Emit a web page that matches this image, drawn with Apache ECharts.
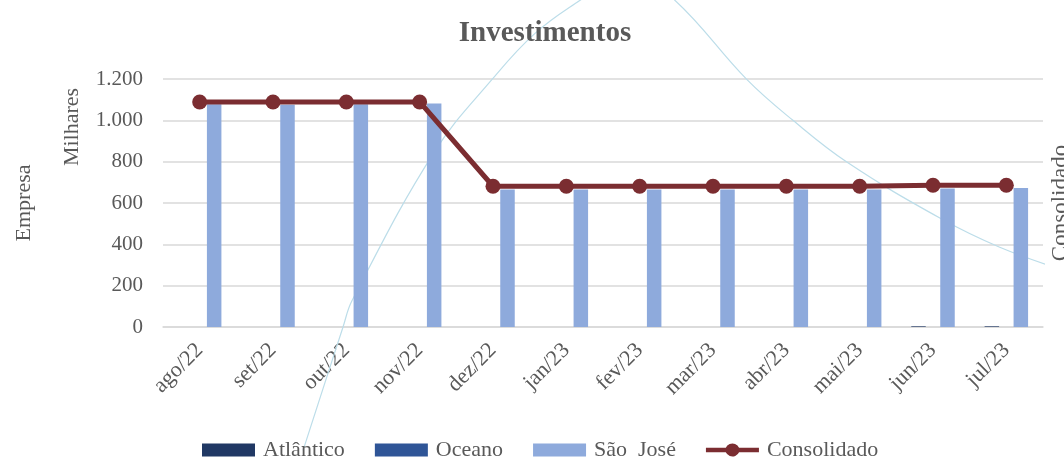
<!DOCTYPE html>
<html>
<head>
<meta charset="utf-8">
<script src="https://cdn.jsdelivr.net/npm/echarts@6/dist/echarts.min.js"></script>
<style>
    html, body { margin: 0; padding: 0; background: #fff; }
    #chart { width: 1064px; height: 458px; }
</style>
</head>
<body>
<div id="chart"></div>
<script>
'use strict';
var meses = ['ago/22', 'set/22', 'out/22', 'nov/22', 'dez/22', 'jan/23', 'fev/23', 'mar/23', 'abr/23', 'mai/23', 'jun/23', 'jul/23'];
var atlantico = [0, 0, 0, 0, 0, 0, 0, 0, 0, 0, 3, 3];
var oceano = [0, 0, 0, 0, 0, 0, 0, 0, 0, 0, 0, 0];
var saoJose = [1078, 1076, 1078, 1081, 665, 665, 665, 665, 665, 665, 670, 673];
var consolidado = [1089, 1089, 1089, 1089, 681, 681, 681, 681, 681, 681, 686, 686];
var yTicks = [0, 200, 400, 600, 800, 1000, 1200];

// linha azul clara que atravessa o grafico (posicao em meses, valor)
var curvaX = [1.41, 1.955, 2.08, 3.196, 3.987, 4.573, 5.187, 5.84, 6.48, 7.46, 8.09, 8.83, 10.10, 10.91, 11.79];
var curvaY = [-597, 0, 129, 845, 1198, 1421, 1581, 1726, 1581, 1198, 1000, 797, 526, 386, 274];

var fonte = '"Liberation Serif", "DejaVu Serif", serif';
var cinza = '#595959';

var chart = echarts.init(document.getElementById('chart'));

function fmt(v) {
    return String(v).replace(/\B(?=(\d{3})+(?!\d))/g, '.');
}

var curva = [];
for (var i = 0; i < curvaX.length; i++) {
    curva.push([curvaX[i], curvaY[i]]);
}

var option = {
    backgroundColor: '#fff',
    animation: false,
    title: {
        text: 'Investimentos',
        left: 540,
        top: 14,
        textAlign: 'center',
        textStyle: { fontFamily: fonte, fontSize: 29, fontWeight: 'bold', color: cinza }
    },
    legend: {
        data: [
            { name: 'Atlântico', icon: 'rect' },
            { name: 'Oceano', icon: 'rect' },
            { name: 'São  José', icon: 'rect' },
            { name: 'Consolidado', icon: 'path://M0,4H19.5A7,7 0 0 1 32.5,4H52V9H32.5A7,7 0 0 1 19.5,9H0Z', itemStyle: { color: '#7b2d31' } }
        ],
        left: 202,
        top: 439,
        padding: 0,
        itemWidth: 53,
        itemHeight: 13,
        itemGap: 30,
        symbolKeepAspect: false,
        textStyle: { fontFamily: fonte, fontSize: 22, color: cinza, padding: [0, 0, 0, 3] }
    },
    grid: { left: 163, right: 21, top: 79, bottom: 131, outerBoundsMode: 'none' },
    graphic: [{
        type: 'text',
        x: 72,
        y: 127,
        rotation: Math.PI / 2,
        style: {
            text: 'Milhares', fill: cinza,
            font: '22px ' + fonte,
            textAlign: 'center', textVerticalAlign: 'middle'
        }
    }],
    xAxis: [{
        type: 'category',
        data: meses,
        axisLine: { lineStyle: { color: '#d9d9d9', width: 1.5 } },
        axisTick: { length: 7, lineStyle: { color: '#d9d9d9', width: 1.5 } },
        axisLabel: { rotate: 45, margin: 20, fontFamily: fonte, fontSize: 22, color: cinza }
    }, {
        type: 'value',
        min: -0.5,
        max: 11.5,
        show: false
    }],
    yAxis: [{
        type: 'value',
        min: 0,
        max: 1200,
        interval: 200,
        name: 'Empresa',
        nameLocation: 'middle',
        nameRotate: 90,
        nameGap: 128,
        nameTextStyle: { fontFamily: fonte, fontSize: 22, color: cinza },
        axisLine: { show: false },
        axisTick: { show: false },
        axisLabel: {
            margin: 20, fontFamily: fonte, fontSize: 21, color: cinza,
            formatter: function(v) { return yTicks.indexOf(v) >= 0 ? fmt(v) : ''; }
        },
        splitLine: { lineStyle: { color: '#d9d9d9', width: 1.5 } }
    }, {
        type: 'value',
        min: 0,
        max: 1200,
        interval: 200,
        position: 'right',
        name: 'Consolidado',
        nameLocation: 'middle',
        nameRotate: 90,
        nameGap: 6,
        nameTextStyle: { fontFamily: fonte, fontSize: 23, color: cinza },
        axisLabel: { show: false },
        axisLine: { show: false },
        axisTick: { show: false },
        splitLine: { show: false }
    }],
    series: [{
        name: 'curva',
        type: 'line',
        xAxisIndex: 1,
        yAxisIndex: 0,
        data: curva,
        smooth: 0.4,
        clip: false,
        silent: true,
        showSymbol: false,
        z: 1,
        lineStyle: { color: '#bcdde9', width: 1.2 }
    }, {
        name: 'Atlântico',
        type: 'bar',
        data: atlantico,
        barWidth: 14.5,
        barGap: '0%',
        itemStyle: { color: '#203864' },
        z: 2
    }, {
        name: 'Oceano',
        type: 'bar',
        data: oceano,
        barWidth: 14.5,
        barGap: '0%',
        itemStyle: { color: '#2f5597' },
        z: 2
    }, {
        name: 'São  José',
        type: 'bar',
        data: saoJose,
        barWidth: 14.5,
        barGap: '0%',
        itemStyle: { color: '#8eaadc' },
        z: 2
    }, {
        name: 'Consolidado',
        type: 'line',
        data: consolidado,
        symbol: 'circle',
        symbolSize: 15,
        z: 3,
        lineStyle: { color: '#7b2d31', width: 5 },
        itemStyle: { color: '#7b2d31' }
    }]
};

chart.setOption(option);
</script>
</body>
</html>
